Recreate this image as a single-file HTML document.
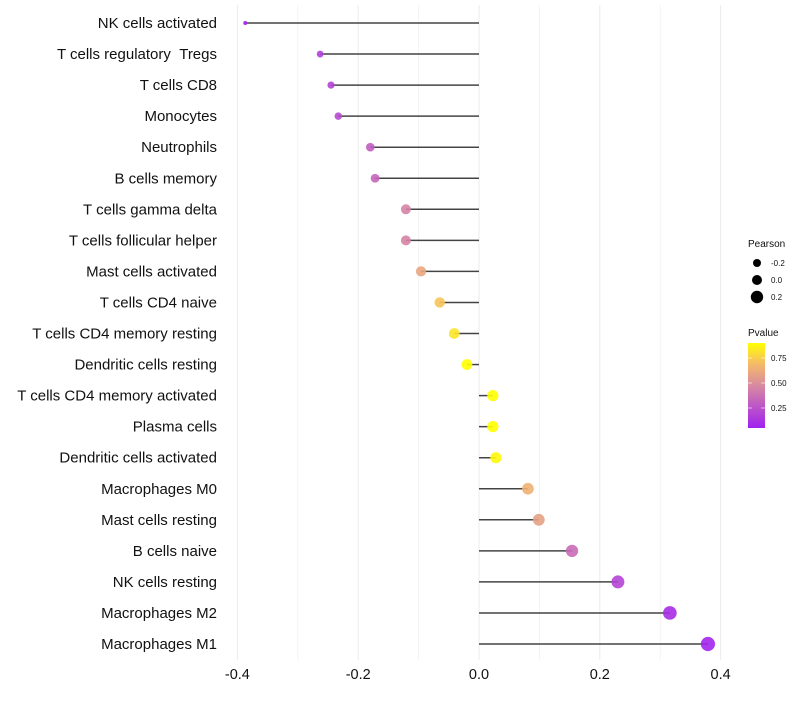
<!DOCTYPE html>
<html><head><meta charset="utf-8"><style>
body{margin:0;background:#fff;}
svg text{font-family:"Liberation Sans",sans-serif;}
</style></head><body>
<svg id="chart" width="800" height="700" xmlns="http://www.w3.org/2000/svg"></svg>
<script>
const categories=["NK cells activated","T cells regulatory \u00a0Tregs","T cells CD8","Monocytes","Neutrophils","B cells memory","T cells gamma delta","T cells follicular helper","Mast cells activated","T cells CD4 naive","T cells CD4 memory resting","Dendritic cells resting","T cells CD4 memory activated","Plasma cells","Dendritic cells activated","Macrophages M0","Mast cells resting","B cells naive","NK cells resting","Macrophages M2","Macrophages M1"];
const pearson=[-0.387,-0.263,-0.245,-0.233,-0.180,-0.172,-0.121,-0.121,-0.096,-0.065,-0.041,-0.020,0.023,0.023,0.028,0.081,0.099,0.154,0.230,0.316,0.379];
const pvalues=[0.06,0.18,0.2,0.22,0.3,0.33,0.45,0.45,0.6,0.72,0.82,0.9,0.9,0.9,0.88,0.65,0.58,0.35,0.2,0.1,0.07];
const xTicks=[-0.4,-0.2,0.0,0.2,0.4];
const xMinor=[-0.3,-0.1,0.1,0.3];
const legendSizes=[-0.2,0.0,0.2];
const legendP=[0.25,0.5,0.75];

const NS="http://www.w3.org/2000/svg";
const svg=document.getElementById('chart');
function mk(t,a,p){const e=document.createElementNS(NS,t);for(const k in a)e.setAttribute(k,a[k]);(p||svg).appendChild(e);return e;}
const x=v=>479+v*604;
const y=i=>23+i*31.05;
function r(v){ if(v<-0.121) return Math.max(1.8,5-(-0.121-v)*11.3); return 5+(v+0.121)*4.2; }
const stops=[[0,[160,32,240]],[0.5,[216,138,160]],[0.75,[245,185,106]],[1,[255,255,0]]];
function col(p){let t=(p-0.05)/0.85;t=Math.max(0,Math.min(1,t));for(let i=1;i<stops.length;i++){if(t<=stops[i][0]){const a=stops[i-1],b=stops[i];const f=(t-a[0])/(b[0]-a[0]);const c=a[1].map((v,k)=>Math.round(v+(b[1][k]-v)*f));return `rgb(${c})`;}}return 'rgb(255,255,0)';}
const py=p=>428-(p-0.05)/0.85*85;

xMinor.forEach(v=>{const l=mk('line',{x1:x(v),x2:x(v),y1:5,y2:660,stroke:'#f3f3f3','stroke-width':1});});
xTicks.forEach(v=>{const l=mk('line',{x1:x(v),x2:x(v),y1:5,y2:660,stroke:'#ebebeb','stroke-width':1});
const t=mk('text',{x:x(v),y:679,'text-anchor':'middle','font-size':14.5,fill:'#111'});t.textContent=v.toFixed(1);});

categories.forEach((c,i)=>{
const t=mk('text',{x:217,y:y(i)+5,'text-anchor':'end','font-size':15,fill:'#111'});t.textContent=c;
const l=mk('line',{x1:x(0),x2:x(pearson[i]),y1:y(i),y2:y(i),stroke:'#444','stroke-width':1.5});
const d=mk('circle',{cx:x(pearson[i]),cy:y(i),r:r(pearson[i]),fill:col(pvalues[i]),'fill-opacity':0.9});
});

const lt=mk('text',{x:748,y:247,'font-size':10,fill:'#111'});lt.textContent='Pearson';
const legendR=[4,5,6.2];
legendSizes.forEach((v,i)=>{const cy=263+i*17;const c=mk('circle',{cx:757,cy:cy,r:legendR[i],fill:'#000'});
const t=mk('text',{x:771,y:cy+3,'font-size':8,fill:'#111'});t.textContent=v.toFixed(1);});

const pt=mk('text',{x:748,y:336,'font-size':10,fill:'#111'});pt.textContent='Pvalue';
const defs=mk('defs',{});const g=mk('linearGradient',{id:'pg',x1:0,y1:1,x2:0,y2:0},defs);
stops.forEach(s=>mk('stop',{offset:s[0],'stop-color':`rgb(${s[1]})`},g));
const bar=mk('rect',{x:748,y:343,width:17,height:85,fill:'url(#pg)'});
legendP.forEach(p=>{const t=mk('text',{x:771,y:py(p)+3,'font-size':8,fill:'#111'});t.textContent=p.toFixed(2);
mk('line',{x1:748,x2:752,y1:py(p),y2:py(p),stroke:'#fff','stroke-width':0.6});mk('line',{x1:761,x2:765,y1:py(p),y2:py(p),stroke:'#fff','stroke-width':0.6});});
</script>
</body></html>
